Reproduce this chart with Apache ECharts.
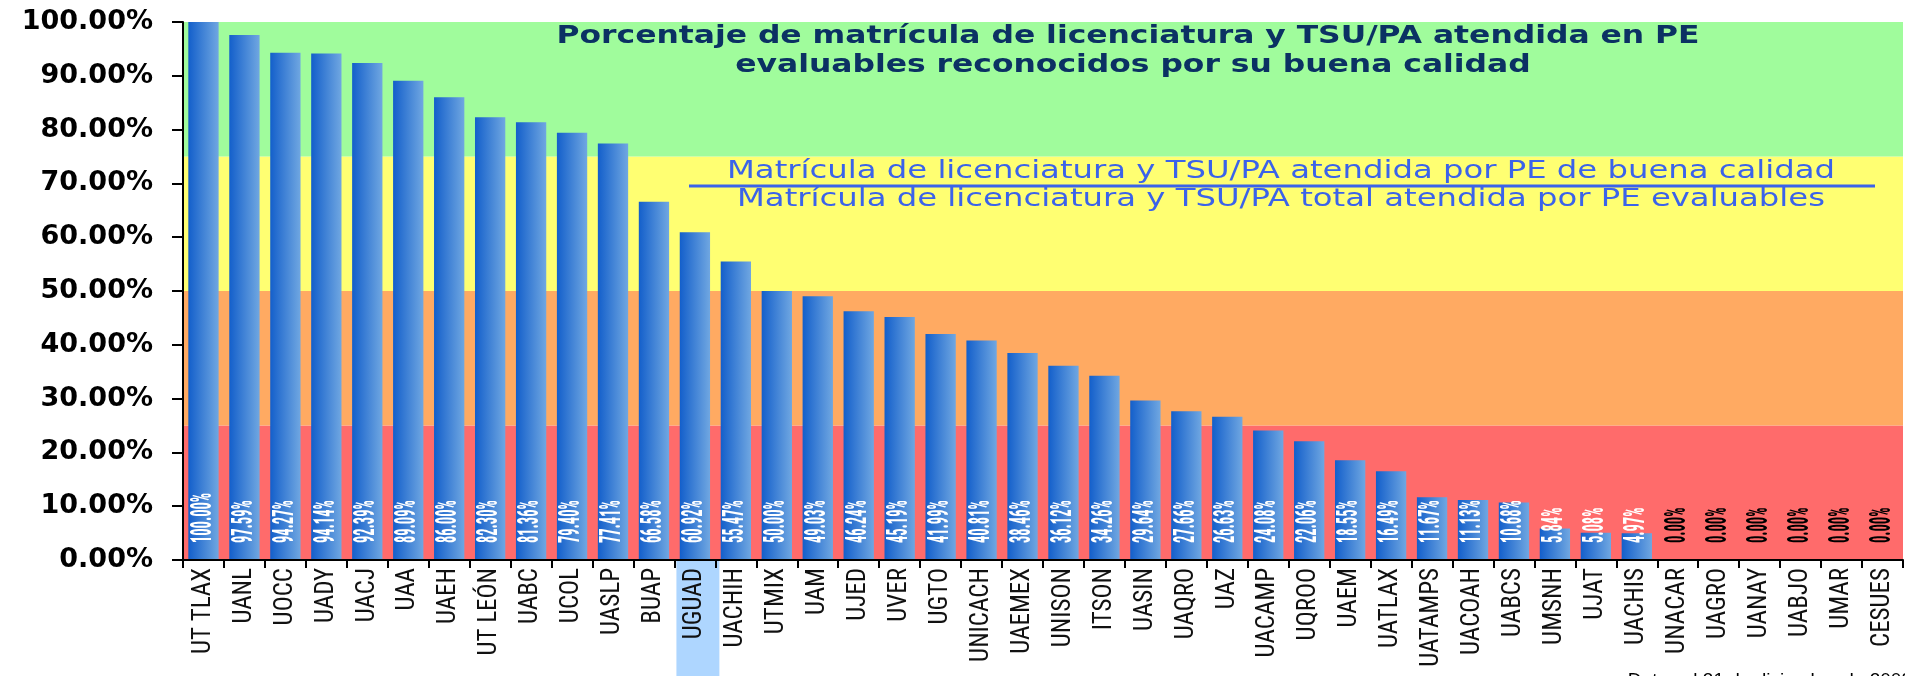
<!DOCTYPE html>
<html>
<head>
<meta charset="utf-8">
<script src="https://cdn.jsdelivr.net/npm/echarts@6/dist/echarts.min.js"></script>
<style>
html,body{margin:0;padding:0;background:#fff;}
#chart{width:1905px;height:676px;}
</style>
</head>
<body>
<div id="chart"></div>
<script>
const categories = ['UT TLAX','UANL','UOCC','UADY','UACJ','UAA','UAEH','UT LEÓN','UABC','UCOL','UASLP','BUAP','UGUAD','UACHIH','UTMIX','UAM','UJED','UVER','UGTO','UNICACH','UAEMEX','UNISON','ITSON','UASIN','UAQRO','UAZ','UACAMP','UQROO','UAEM','UATLAX','UATAMPS','UACOAH','UABCS','UMSNH','UJAT','UACHIS','UNACAR','UAGRO','UANAY','UABJO','UMAR','CESUES'];
const values = [100.00,97.59,94.27,94.14,92.39,89.09,86.00,82.30,81.36,79.40,77.41,66.58,60.92,55.47,50.00,49.03,46.24,45.19,41.99,40.81,38.46,36.12,34.26,29.64,27.66,26.63,24.08,22.06,18.55,16.49,11.67,11.13,10.68,5.84,5.08,4.97,0,0,0,0,0,0];
const bandLimits = [0, 25, 50, 75, 100];
const highlighted = 'UGUAD';
const titleLines = ['Porcentaje de matrícula de licenciatura y TSU/PA atendida en PE','evaluables reconocidos por su buena calidad'];
const fractionTop = 'Matrícula de licenciatura y TSU/PA atendida por PE de buena calidad';
const fractionBottom = 'Matrícula de licenciatura y TSU/PA total atendida por PE evaluables';
const footer = 'Datos al 31 de diciembre de 2008';

const bandColors = ['#FF6B6B', '#FFAA62', '#FFFF72', '#A0FC9C'];
const narrow = "'Liberation Sans Narrow','Arial Narrow','Noto Sans Condensed','Roboto Condensed','DejaVu Sans Condensed',sans-serif";

function measure(text, font) {
  const ctx = document.createElement('canvas').getContext('2d');
  ctx.font = font;
  return ctx.measureText(text).width;
}

const labelFont = "bold 18px " + narrow;
const labelScaleX = 50 / measure('100.00%', labelFont);
const labelScaleY = 1.6;

const chart = echarts.init(document.getElementById('chart'), null, {renderer: 'canvas'});

const bandData = [];
for (let i = 0; i < bandLimits.length - 1; i++) {
  bandData.push([{yAxis: bandLimits[i], itemStyle: {color: bandColors[i], opacity: 1}}, {yAxis: bandLimits[i + 1]}]);
}

const pairs = categories.map((c, i) => [c, values[i]]);

const option = {
  animation: false,
  grid: {left: 183, right: 2, top: 22, bottom: 116, containLabel: false},
  xAxis: {
    type: 'category',
    data: categories,
    boundaryGap: true,
    z: 5,
    axisLine: {lineStyle: {color: '#000', width: 2}},
    axisTick: {show: true, alignWithLabel: false, length: 8, lineStyle: {color: '#000', width: 2}},
    axisLabel: {
      rotate: 90, interval: 0, margin: 8, color: '#111',
      fontFamily: narrow, fontSize: 25
    },
    splitLine: {show: false}
  },
  yAxis: {
    type: 'value', min: 0, max: 100, interval: 10,
    z: 5,
    axisLine: {show: true, lineStyle: {color: '#000', width: 2}},
    axisTick: {show: true, length: 11, lineStyle: {color: '#000', width: 2}},
    splitLine: {show: false},
    axisLabel: {
      margin: 30, color: '#000', fontWeight: 'bold',
      fontFamily: "'DejaVu Sans',Verdana,sans-serif", fontSize: 27,
      formatter: v => v.toFixed(2) + '%'
    }
  },
  series: [
    {
      type: 'line', data: [], silent: true, z: 1,
      markArea: {silent: true, data: bandData}
    },
    {
      type: 'bar', data: values, z: 2,
      barCategoryGap: '26%',
      itemStyle: {
        color: new echarts.graphic.LinearGradient(0, 0, 1, 0, [
          {offset: 0, color: '#135FCB'},
          {offset: 1, color: '#70A7E1'}
        ])
      }
    },
    {
      type: 'custom', z: 3, silent: true,
      data: pairs,
      encode: {x: 0, y: 1},
      renderItem: function (params, api) {
        const v = api.value(1);
        const pt = api.coord([api.value(0), 0]);
        return {
          type: 'text',
          x: pt[0], y: pt[1] - 17,
          rotation: Math.PI / 2,
          scaleX: labelScaleX, scaleY: labelScaleY,
          style: {
            text: Number(v).toFixed(2) + '%',
            font: labelFont,
            fill: v === 0 ? '#000' : '#fff',
            align: 'left', verticalAlign: 'middle'
          }
        };
      }
    }
  ]
};
chart.setOption(option);

const titleFont = "bold 24px 'DejaVu Sans'";
const titleScale = 1143 / measure(titleLines[0], titleFont);
const fracFont = "24px 'DejaVu Sans'";
const fracScale = 1108 / measure(fractionTop, fracFont);

const cx = chart.convertToPixel({xAxisIndex: 0}, highlighted);
const x0 = chart.convertToPixel({xAxisIndex: 0}, categories[0]);
const x1 = chart.convertToPixel({xAxisIndex: 0}, categories[1]);
const catW = x1 - x0;
const y0 = chart.convertToPixel({yAxisIndex: 0}, 0);

chart.setOption({
  graphic: [
    {type: 'rect', z: 1, shape: {x: cx - catW / 2 + 2, y: y0 + 1, width: catW + 2, height: 676 - y0}, style: {fill: '#AED6FF'}},
    {type: 'text', z: 20, x: 1128, y: 37, scaleX: titleScale,
      style: {text: titleLines[0], font: titleFont, fill: '#0B3163', align: 'center', verticalAlign: 'middle'}},
    {type: 'text', z: 20, x: 1133, y: 66, scaleX: titleScale,
      style: {text: titleLines[1], font: titleFont, fill: '#0B3163', align: 'center', verticalAlign: 'middle'}},
    {type: 'text', z: 20, x: 1281, y: 172, scaleX: fracScale,
      style: {text: fractionTop, font: fracFont, fill: '#3B63EA', align: 'center', verticalAlign: 'middle'}},
    {type: 'line', z: 20, shape: {x1: 689, y1: 186, x2: 1875, y2: 186}, style: {stroke: '#3B63EA', lineWidth: 3}},
    {type: 'text', z: 20, x: 1281, y: 200, scaleX: fracScale,
      style: {text: fractionBottom, font: fracFont, fill: '#3B63EA', align: 'center', verticalAlign: 'middle'}},
    {type: 'text', z: 20, x: 1912, y: 671,
      style: {text: footer, font: "19px 'Liberation Sans'", fill: '#000', align: 'right', verticalAlign: 'top'}}
  ]
});
</script>
</body>
</html>
